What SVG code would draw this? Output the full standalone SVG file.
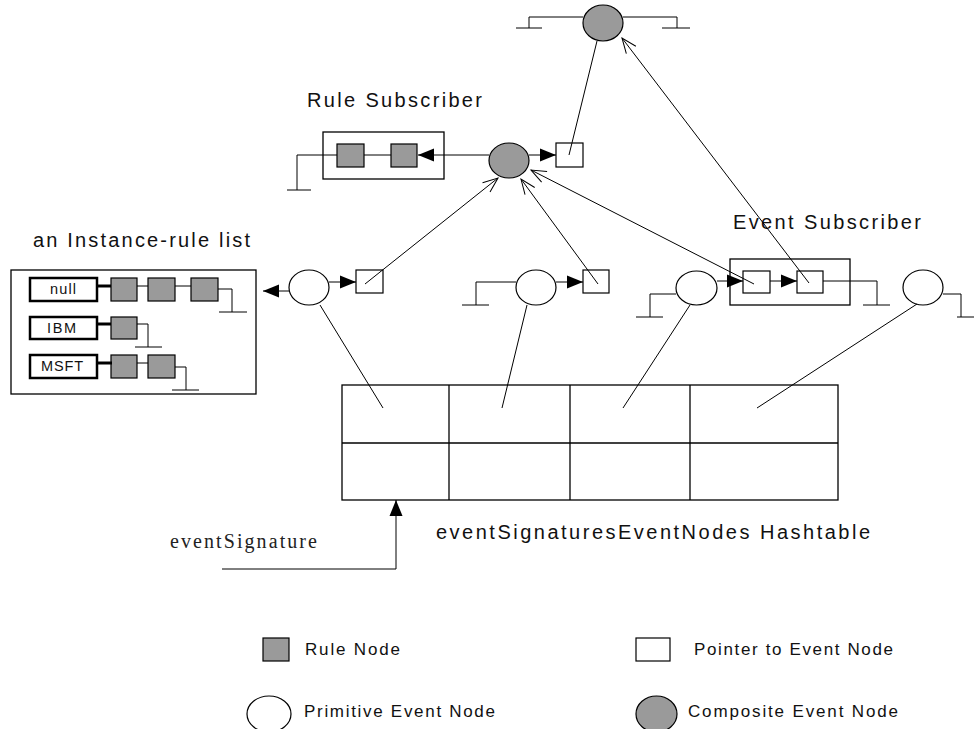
<svg xmlns="http://www.w3.org/2000/svg" width="974" height="729" viewBox="0 0 974 729">
  <defs>
    <style>
      .ln { stroke: #000; stroke-width: 1; fill: none; }
      .thick { stroke: #000; stroke-width: 3; fill: none; }
      .rule { fill: #9a9a9a; stroke: #000; stroke-width: 1.2; }
      .ptr { fill: #fff; stroke: #000; stroke-width: 1.2; }
      .prim { fill: #fff; stroke: #000; stroke-width: 1.2; }
      .comp { fill: #9a9a9a; stroke: #000; stroke-width: 1.2; }
      .frame { fill: none; stroke: #000; stroke-width: 1.3; }
      .key { fill: #fff; stroke: #000; stroke-width: 2.5; }
      .sans { font-family: "Liberation Sans", Arial, sans-serif; fill: #111; }
      .serif { font-family: "Liberation Serif", "Times New Roman", serif; fill: #222; }
      .title { font-size: 20px; }
      .legend { font-size: 17px; }
      .small { font-size: 14.5px; }
    </style>
    <marker id="solid" markerUnits="userSpaceOnUse" markerWidth="20" markerHeight="16" viewBox="-17 -8 18 16" refX="0" refY="0" orient="auto">
      <path d="M-16,-6.5 L0,0 L-16,6.5 Z" fill="#000"/>
    </marker>
    <marker id="open" markerUnits="userSpaceOnUse" markerWidth="20" markerHeight="16" viewBox="-17 -8 18 16" refX="0" refY="0" orient="auto">
      <path d="M-15,-6 L0,0 L-15,6" fill="none" stroke="#000" stroke-width="1"/>
    </marker>
  </defs>

  <rect width="974" height="729" fill="#fff"/>

  <!-- top composite event node -->
  <g id="composite-top">
    <ellipse class="comp" cx="603" cy="23" rx="20" ry="18"/>
  </g>

  <!-- rule subscriber list of the middle composite node -->
  <g id="rule-subscriber">
    <text class="sans title" x="307" y="107" textLength="175" lengthAdjust="spacing">Rule Subscriber</text>
    <rect class="frame" x="323" y="132" width="121" height="47"/>
    <rect class="rule" x="337" y="144" width="27" height="23"/>
    <rect class="rule" x="391" y="144" width="26" height="23"/>
  </g>

  <g id="composite-mid">
    <ellipse class="comp" cx="509" cy="160.5" rx="20" ry="17.5"/>
    <rect class="ptr" x="556" y="143" width="27" height="24"/>
  </g>

  <!-- instance-rule list -->
  <g id="instance-rule-list">
    <text class="sans title" x="33" y="247" textLength="217" lengthAdjust="spacing">an Instance-rule list</text>
    <rect class="frame" x="11" y="270" width="245" height="124"/>
    <rect class="key" x="30" y="278" width="67" height="23"/>
    <text class="sans small" x="50" y="294" textLength="26" lengthAdjust="spacing">null</text>
    <rect class="key" x="30" y="317" width="67" height="22"/>
    <text class="sans small" x="47" y="333" textLength="29" lengthAdjust="spacing">IBM</text>
    <rect class="key" x="30" y="355" width="67" height="23"/>
    <text class="sans small" x="41" y="371" textLength="42" lengthAdjust="spacing">MSFT</text>
    <rect class="rule" x="111" y="278" width="26" height="23"/>
    <rect class="rule" x="148" y="278" width="27" height="23"/>
    <rect class="rule" x="191" y="278" width="27" height="23"/>
    <rect class="rule" x="111" y="317" width="26" height="22"/>
    <rect class="rule" x="111" y="355" width="26" height="23"/>
    <rect class="rule" x="148" y="355" width="27" height="23"/>
  </g>

  <!-- primitive event nodes -->
  <g id="primitive-1">
    <ellipse class="prim" cx="309" cy="287.5" rx="20" ry="17.5"/>
    <rect class="ptr" x="356" y="270" width="27" height="23"/>
  </g>

  <g id="primitive-2">
    <ellipse class="prim" cx="536" cy="287.5" rx="20" ry="17.5"/>
    <rect class="ptr" x="583" y="270" width="26" height="23"/>
  </g>

  <g id="primitive-3">
    <ellipse class="prim" cx="696.5" cy="288" rx="20.5" ry="17"/>
  </g>

  <!-- event subscriber list of primitive node 3 -->
  <g id="event-subscriber">
    <text class="sans title" x="733" y="229" textLength="188" lengthAdjust="spacing">Event Subscriber</text>
    <rect class="frame" x="730" y="259" width="120" height="46"/>
    <rect class="ptr" x="743" y="271" width="27" height="22"/>
    <rect class="ptr" x="797" y="271" width="26" height="22"/>
  </g>

  <g id="primitive-4">
    <ellipse class="prim" cx="923" cy="287.5" rx="20" ry="17.5"/>
  </g>

  <!-- hashtable -->
  <g id="hashtable">
    <rect class="frame" x="342" y="385" width="496" height="115"/>
    <line class="frame" x1="342" y1="443" x2="838" y2="443"/>
    <line class="frame" x1="449" y1="385" x2="449" y2="500"/>
    <line class="frame" x1="570" y1="385" x2="570" y2="500"/>
    <line class="frame" x1="690" y1="385" x2="690" y2="500"/>
    <text class="sans title" x="436" y="539" textLength="434" lengthAdjust="spacing">eventSignaturesEventNodes Hashtable</text>
  </g>

  <g id="event-signature">
    <text class="serif" font-size="20" x="170" y="548" textLength="147" lengthAdjust="spacing">eventSignature</text>
  </g>

  <!-- legend -->
  <g id="legend">
    <rect class="rule" x="263" y="638" width="26" height="23"/>
    <text class="sans legend" x="305" y="655" textLength="95" lengthAdjust="spacing">Rule Node</text>
    <rect class="ptr" x="636" y="638" width="34" height="23"/>
    <text class="sans legend" x="694" y="655" textLength="199" lengthAdjust="spacing">Pointer to Event Node</text>
    <ellipse class="prim" cx="269" cy="714" rx="22" ry="18"/>
    <text class="sans legend" x="304" y="717" textLength="191" lengthAdjust="spacing">Primitive Event Node</text>
    <ellipse class="comp" cx="656.5" cy="714" rx="20.5" ry="18"/>
    <text class="sans legend" x="688" y="717" textLength="210" lengthAdjust="spacing">Composite Event Node</text>
  </g>

  <!-- connectors and list terminators -->
  <g id="connectors">
    <!-- top composite terminators -->
    <polyline class="ln" points="583,17 529,17 529,28"/>
    <line class="ln" x1="516" y1="28" x2="542" y2="28"/>
    <polyline class="ln" points="623,17 677,17 677,28"/>
    <line class="ln" x1="662" y1="28" x2="690" y2="28"/>
    <line class="ln" x1="569" y1="155" x2="597" y2="41"/>
    <line class="ln" x1="809" y1="283" x2="622" y2="38" marker-end="url(#open)"/>

    <!-- middle composite -->
    <line class="ln" x1="489" y1="155" x2="418" y2="155" marker-end="url(#solid)"/>
    <line class="ln" x1="529" y1="155" x2="556" y2="155" marker-end="url(#solid)"/>
    <line class="ln" x1="364" y1="155" x2="391" y2="155"/>
    <polyline class="ln" points="337,155 297,155 297,190"/>
    <line class="ln" x1="287" y1="190" x2="311" y2="190"/>
    <line class="ln" x1="365" y1="284" x2="498" y2="178" marker-end="url(#open)"/>
    <line class="ln" x1="598" y1="284" x2="521" y2="179" marker-end="url(#open)"/>
    <line class="ln" x1="754" y1="284" x2="531" y2="170" marker-end="url(#open)"/>

    <!-- instance-rule list links -->
    <line class="thick" x1="97" y1="286" x2="111" y2="286"/>
    <line class="ln" x1="137" y1="286" x2="148" y2="286"/>
    <line class="ln" x1="175" y1="286" x2="191" y2="286"/>
    <polyline class="ln" points="218,289 232,289 232,312"/>
    <line class="ln" x1="219" y1="312" x2="247" y2="312"/>
    <line class="thick" x1="97" y1="324" x2="111" y2="324"/>
    <polyline class="ln" points="137,324 148,324 148,347"/>
    <line class="ln" x1="135" y1="347" x2="162" y2="347"/>
    <line class="thick" x1="97" y1="363" x2="112" y2="363"/>
    <line class="ln" x1="137" y1="363" x2="148" y2="363"/>
    <polyline class="ln" points="175,367 186,367 186,390"/>
    <line class="ln" x1="172" y1="390" x2="199" y2="390"/>

    <!-- primitive node 1 -->
    <line class="ln" x1="289" y1="291" x2="263" y2="291" marker-end="url(#solid)"/>
    <line class="ln" x1="329" y1="282" x2="356" y2="282" marker-end="url(#solid)"/>
    <line class="ln" x1="320" y1="305" x2="383" y2="408"/>

    <!-- primitive node 2 -->
    <polyline class="ln" points="516,282 476,282 476,305"/>
    <line class="ln" x1="462" y1="305" x2="489" y2="305"/>
    <line class="ln" x1="556" y1="282" x2="583" y2="282" marker-end="url(#solid)"/>
    <line class="ln" x1="527" y1="305" x2="502" y2="408"/>

    <!-- primitive node 3 and its event subscriber list -->
    <polyline class="ln" points="676,294 650,294 650,317"/>
    <line class="ln" x1="636" y1="317" x2="663" y2="317"/>
    <line class="ln" x1="717" y1="281" x2="743" y2="281" marker-end="url(#solid)"/>
    <line class="ln" x1="770" y1="281" x2="797" y2="281" marker-end="url(#solid)"/>
    <polyline class="ln" points="823,281 877,281 877,305"/>
    <line class="ln" x1="863" y1="305" x2="890" y2="305"/>
    <line class="ln" x1="690" y1="305" x2="623" y2="408"/>

    <!-- primitive node 4 -->
    <polyline class="ln" points="943,294 961,294 961,317"/>
    <line class="ln" x1="957" y1="317" x2="974" y2="317"/>
    <line class="ln" x1="917" y1="304" x2="757" y2="408"/>

    <!-- lookup by event signature -->
    <polyline class="ln" points="222,569 396,569 396,500" marker-end="url(#solid)"/>
  </g>
</svg>
